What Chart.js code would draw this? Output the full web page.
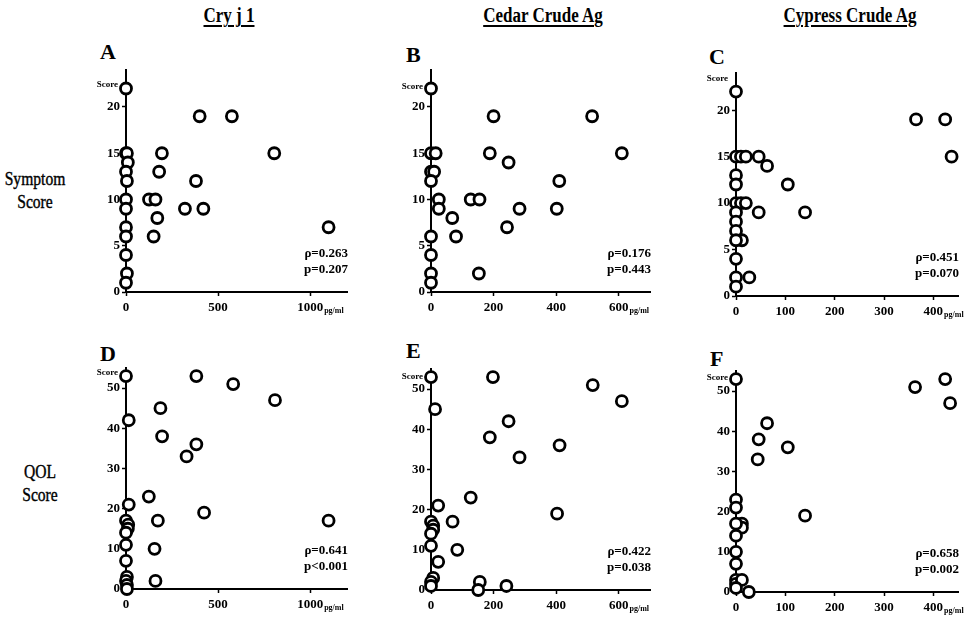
<!DOCTYPE html>
<html>
<head>
<meta charset="utf-8">
<script src="https://cdn.jsdelivr.net/npm/chart.js@4.4.0/dist/chart.umd.min.js"></script>
<style>
  body { margin: 0; background: #fff; width: 978px; height: 618px; position: relative; overflow: hidden;
         font-family: 'Liberation Serif', 'Times New Roman', serif; color: #000; }
  .panel { position: absolute; }
  .title { position: absolute; top: 4px; width: 240px; margin-left: -120px; text-align: center;
           font-size: 20px; font-weight: bold; text-decoration: underline; text-decoration-thickness: 2px;
           text-underline-offset: 3px; transform: scaleX(0.85); }
  .letter { position: absolute; font-size: 22px; font-weight: bold; line-height: 22px; }
  .row { position: absolute; width: 100px; margin-left: -50px; text-align: center; font-size: 19px;
         line-height: 23px; transform: scaleX(0.82); -webkit-text-stroke: 0.4px #000; }
</style>
</head>
<body>
<div class="title" style="left:229px">Cry j 1</div>
<div class="title" style="left:543px">Cedar Crude Ag</div>
<div class="title" style="left:850px">Cypress Crude Ag</div>

<div class="letter" style="left:100px;top:41px">A</div>
<div class="letter" style="left:406px;top:44px">B</div>
<div class="letter" style="left:709px;top:46px">C</div>
<div class="letter" style="left:100px;top:343px">D</div>
<div class="letter" style="left:406px;top:340px">E</div>
<div class="letter" style="left:710px;top:348px">F</div>

<div class="row" style="left:35px;top:167px">Symptom<br>Score</div>
<div class="row" style="left:40px;top:460px">QOL<br>Score</div>

<div class="panel" id="boxA"><canvas id="chartA"></canvas></div>
<div class="panel" id="boxB"><canvas id="chartB"></canvas></div>
<div class="panel" id="boxC"><canvas id="chartC"></canvas></div>
<div class="panel" id="boxD"><canvas id="chartD"></canvas></div>
<div class="panel" id="boxE"><canvas id="chartE"></canvas></div>
<div class="panel" id="boxF"><canvas id="chartF"></canvas></div>

<script>
// IgE (pg/ml) on x, score on y
const cryjSymptomX = [0, 0, 5, 10, 0, 5, 0, 0, 0, 0, 0, 5, 0, 125, 160, 195, 180, 170, 150, 400, 575, 805, 380, 320, 420, 1100];
const cryjSymptomY = [22, 15, 15, 14, 13, 12, 10, 9, 7, 6, 4, 2, 1, 10, 10, 15, 13, 8, 6, 19, 19, 15, 12, 9, 9, 7];

const cedarSymptomX = [0, 0, 15, 0, 10, 0, 25, 25, 68, 80, 0, 0, 0, 0, 127, 155, 153, 200, 188, 248, 243, 283, 410, 402, 515, 610];
const cedarSymptomY = [22, 15, 15, 13, 13, 12, 10, 9, 8, 6, 6, 4, 2, 1, 10, 10, 2, 19, 15, 14, 7, 9, 12, 9, 19, 15];

const cypressSymptomX = [0, 0, 10, 20, 46, 63, 0, 0, 0, 10, 20, 46, 0, 0, 0, 12, 0, 0, 0, 27, 0, 105, 140, 365, 424, 437];
const cypressSymptomY = [22, 15, 15, 15, 15, 14, 13, 12, 10, 10, 10, 9, 9, 8, 7, 6, 6, 4, 2, 2, 1, 12, 9, 19, 19, 15];

const cryjQolX = [0, 15, 15, 0, 12, 10, 0, 0, 0, 5, 0, 5, 5, 124, 187, 196, 173, 155, 160, 382, 582, 809, 382, 329, 424, 1100];
const cryjQolY = [53, 42, 21, 17, 16, 15, 14, 11, 7, 3, 2, 1, 0, 23, 45, 38, 17, 10, 2, 53, 51, 47, 36, 33, 19, 17];

const cedarQolX = [0, 13, 23, 0, 7, 7, 0, 0, 23, 7, 0, 0, 69, 84, 127, 156, 151, 241, 198, 188, 248, 283, 411, 403, 517, 610];
const cedarQolY = [53, 45, 21, 17, 16, 15, 14, 11, 7, 3, 2, 1, 17, 10, 23, 2, 0, 1, 53, 38, 42, 33, 36, 19, 51, 47];

const cypressQolX = [0, 0, 0, 12, 12, 0, 0, 0, 0, 0, 0, 12, 0, 26, 46, 63, 44, 105, 140, 363, 424, 434];
const cypressQolY = [53, 23, 21, 17, 16, 17, 14, 10, 7, 3, 2, 3, 1, 0, 38, 42, 33, 36, 19, 51, 53, 47];

const cryjTicks = [0, 500, 1000];
const cedarTicks = [0, 200, 400, 600];
const cypressTicks = [0, 100, 200, 300, 400];
const symptomTicks = [0, 5, 10, 15, 20];
const qolTicks = [0, 10, 20, 30, 40, 50];

const statsA = ['\u03C1=0.263', 'p=0.207'];
const statsB = ['\u03C1=0.176', 'p=0.443'];
const statsC = ['\u03C1=0.451', 'p=0.070'];
const statsD = ['\u03C1=0.641', 'p<0.001'];
const statsE = ['\u03C1=0.422', 'p=0.038'];
const statsF = ['\u03C1=0.658', 'p=0.002'];

const FONT = "'Liberation Serif', 'Times New Roman', serif";
const YW = 45, PT = 20, PR = 45, XH = 32;

const panelText = {
  id: 'panelText',
  afterDraw(chart, args, opts) {
    const { ctx, chartArea: a, scales } = chart;
    ctx.save();
    ctx.fillStyle = '#000';
    ctx.font = 'bold 9px ' + FONT;
    ctx.textAlign = 'right';
    ctx.textBaseline = 'middle';
    ctx.fillText('Score', a.left - 8, a.top + opts.scoreDy);

    ctx.font = 'bold 13px ' + FONT;
    opts.stats.forEach((s, i) => ctx.fillText(s, a.right + 1, a.bottom - 38 + i * 16));

    // unit written as a subscript after the last x tick label
    const xs = scales.x;
    const last = xs.ticks[xs.ticks.length - 1];
    const px = xs.getPixelForValue(last.value);
    const w = ctx.measureText(String(last.value)).width;
    ctx.font = 'bold 8px ' + FONT;
    ctx.textAlign = 'left';
    ctx.fillText('pg/ml', px + w / 2 + 1, a.bottom + 19);
    ctx.restore();
  }
};

function axis(max, tickVals, isX) {
  return {
    type: 'linear',
    min: 0,
    max: max,
    afterBuildTicks: s => { s.ticks = tickVals.map(v => ({ value: v })); },
    afterFit: s => { if (isX) s.height = XH; else s.width = YW; },
    grid: { drawOnChartArea: false, drawTicks: true, tickLength: 4, tickColor: '#000', tickWidth: 1.5 },
    border: { display: true, color: '#000', width: 2 },
    ticks: { color: '#000', font: { family: FONT, size: 13, weight: 'bold' },
             padding: isX ? 4 : 2, maxRotation: 0, autoSkip: false,
             callback: v => String(v) }
  };
}

function makePanel(id, box, xs, ys, xMax, yMax, xTicks, yTicks, stats, scoreDy) {
  const w = (box.r - box.l) + YW + PR;
  const h = (box.b - box.t) + PT + XH;
  const holder = document.getElementById('box' + id);
  holder.style.left = (box.l - YW) + 'px';
  holder.style.top = (box.t - PT) + 'px';
  const cv = document.getElementById('chart' + id);
  cv.width = w;
  cv.height = h;
  new Chart(cv, {
    type: 'scatter',
    data: {
      datasets: [{
        data: xs.map((x, i) => ({ x: x, y: ys[i] })),
        pointStyle: 'circle',
        pointRadius: 5.5,
        borderWidth: 2.8,
        borderColor: '#000',
        backgroundColor: '#fff',
        clip: false
      }]
    },
    options: {
      responsive: false,
      animation: false,
      events: [],
      layout: { padding: { top: PT, right: PR, left: 0, bottom: 0 } },
      scales: { x: axis(xMax, xTicks, true), y: axis(yMax, yTicks, false) },
      plugins: {
        legend: { display: false },
        tooltip: { enabled: false },
        panelText: { stats: stats, scoreDy: scoreDy }
      }
    },
    plugins: [panelText]
  });
}

makePanel('A', { l: 126, r: 347, t: 70, b: 292 }, cryjSymptomX, cryjSymptomY, 1200, 24, cryjTicks, symptomTicks, statsA, 15);
makePanel('B', { l: 431, r: 650, t: 70, b: 292 }, cedarSymptomX, cedarSymptomY, 700, 24, cedarTicks, symptomTicks, statsB, 17);
makePanel('C', { l: 736, r: 958, t: 73, b: 296 }, cypressSymptomX, cypressSymptomY, 450, 24, cypressTicks, symptomTicks, statsC, 6);
makePanel('D', { l: 126, r: 347, t: 368, b: 589 }, cryjQolX, cryjQolY, 1200, 55, cryjTicks, qolTicks, statsD, 5);
makePanel('E', { l: 431, r: 650, t: 369, b: 590 }, cedarQolX, cedarQolY, 700, 55, cedarTicks, qolTicks, statsE, 8);
makePanel('F', { l: 736, r: 958, t: 371, b: 592 }, cypressQolX, cypressQolY, 450, 55, cypressTicks, qolTicks, statsF, 7);
</script>
</body>
</html>
